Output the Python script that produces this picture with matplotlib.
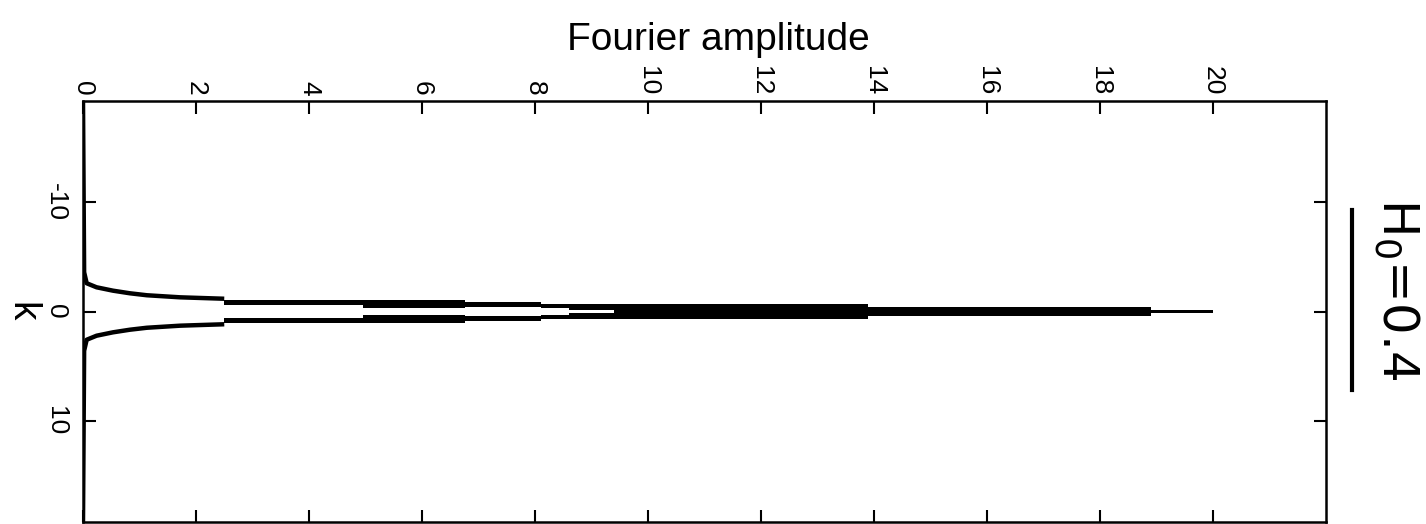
import numpy as np
import matplotlib
matplotlib.use("Agg")
import matplotlib.pyplot as plt
from matplotlib.lines import Line2D

plt.rcParams['font.family'] = ['Liberation Sans', 'DejaVu Sans']
plt.rcParams['axes.unicode_minus'] = False

# tail of the spectrum (amplitude, k on the negative side)
tail_amp = [0.0, 0.02, 0.065, 0.24, 0.53, 0.83, 1.13, 1.72, 2.5]
tail_k = [-19.3, -3.6, -2.59, -2.22, -1.91, -1.67, -1.49, -1.30, -1.17]

# stepped core: amplitude breakpoints and |k| edges of each band
band_amp = [2.5, 4.96, 6.76, 8.1, 8.6, 9.4, 13.9, 18.9, 20.0]
band_outer = [1.01, 1.06, 0.84, 0.69, 0.69, 0.66, 0.45, 0.18]
band_inner = [0.64, 0.35, 0.39, 0.29, 0.18, 0.0, 0.0, 0.0]

amp_ticks = [0, 2, 4, 6, 8, 10, 12, 14, 16, 18, 20]
k_ticks = [-10, 0, 10]

W, H = 1426, 524
fig = plt.figure(figsize=(W / 100, H / 100), dpi=100)
ax = fig.add_axes([83 / W, 1 - 522 / H, (1326 - 83) / W, (522 - 101) / H])

# both branches of the spectrum
for s in (-1, 1):
    ax.plot(tail_amp, [s * k for k in tail_k], color='black', lw=3.2,
            solid_capstyle='butt')
    outer = np.array(band_outer + [band_outer[-1]])
    inner = np.array(band_inner + [band_inner[-1]])
    ax.fill_between(band_amp, s * inner, s * outer, step='post',
                    color='black', lw=0)

ax.set_xlim(0, 22)
ax.set_ylim(19.3, -19.3)

ax.set_xticks(amp_ticks)
ax.set_yticks(k_ticks)
ax.tick_params(direction='in', length=9, width=1.5, top=True, right=True,
               bottom=True, left=True, labeltop=True, labelbottom=False,
               labelsize=19)
ax.tick_params(axis='x', pad=4)
ax.tick_params(axis='y', pad=11)
for lab in ax.get_xticklabels():
    lab.set_rotation(-90)
    lab.set_va('bottom')
for lab in ax.get_yticklabels():
    lab.set_rotation(-90)
    lab.set_va('center')
for sp in ax.spines.values():
    sp.set_linewidth(1.8)

ax.xaxis.set_label_position('top')
ax.set_xlabel('Fourier amplitude', fontsize=28)
ax.xaxis.set_label_coords((718 - 83) / 1243, (522 - 50) / 421)
ax.set_ylabel('k', fontsize=28, rotation=-90, va='center', ha='center')
ax.yaxis.set_label_coords((21 - 83) / 1243, 0.5)

# handwritten note on the right
fig.text(1397 / W, 1 - 289 / H, 'H$_0$=0.4', rotation=-90, fontsize=36,
         ha='center', va='center', family='DejaVu Sans')
fig.add_artist(Line2D([1352 / W, 1352 / W], [1 - 210 / H, 1 - 390 / H],
                      color='black', lw=3))

fig.savefig('out.png', dpi=100)
